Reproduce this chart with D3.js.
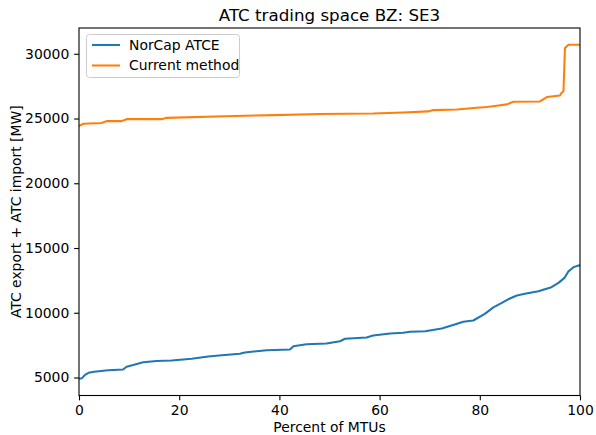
<!DOCTYPE html>
<html>
<head>
<meta charset="utf-8">
<script src="https://cdn.jsdelivr.net/npm/d3@7"></script>
<style>
  body { margin: 0; background: #fff; }
  svg { display: block; font-family: "DejaVu Sans", sans-serif; }
</style>
</head>
<body>
<svg id="chart" width="596" height="435"></svg>
<script>
// ---- Data ----
const title = "ATC trading space BZ: SE3";
const xLabel = "Percent of MTUs";
const yLabel = "ATC export + ATC import [MW]";
const seriesNames = ["NorCap ATCE", "Current method"];
const seriesColors = ["#1f77b4", "#ff7f0e"];

const norcapX = [0, 0.6, 1.2, 1.9, 3, 5.8, 8.8, 9.5, 11, 12.8, 15.5, 18.5, 22.5, 25.8, 28.5, 32.1, 33.1, 37.5, 42.1, 42.8, 45.4, 49.4, 52.1, 53.1, 57.4, 58.7, 62.1, 64.7, 66.1, 69.1, 72.4, 75.0, 76.7, 78.7, 81.0, 82.7, 84.4, 86.0, 87.4, 89.0, 91.7, 94.3, 95.7, 96.9, 97.7, 98.7, 99.6, 100];
const norcapY = [4900, 4950, 5200, 5360, 5450, 5560, 5620, 5830, 5980, 6180, 6280, 6310, 6450, 6620, 6720, 6830, 6930, 7110, 7160, 7420, 7570, 7620, 7800, 7990, 8090, 8240, 8400, 8450, 8530, 8570, 8780, 9090, 9300, 9400, 9910, 10420, 10760, 11100, 11330, 11460, 11660, 11970, 12310, 12690, 13200, 13510, 13640, 13660];

const currentX = [0, 0.9, 4.5, 5.5, 8.5, 9.5, 16.5, 17.5, 29.1, 39.1, 48.1, 58.7, 64.7, 69.7, 70.7, 75.4, 79.4, 81.4, 83.4, 85.4, 86.7, 92.0, 93.4, 96.0, 96.3, 96.7, 97.0, 97.7, 99.5, 100];
const currentY = [24430, 24600, 24650, 24800, 24800, 24950, 24950, 25050, 25180, 25260, 25350, 25390, 25470, 25550, 25650, 25700, 25830, 25890, 25990, 26090, 26300, 26320, 26660, 26780, 26970, 27100, 30440, 30690, 30700, 30700];

const xTicks = [0, 20, 40, 60, 80, 100];
const yTicks = [5000, 10000, 15000, 20000, 25000, 30000];

(function () {
// ---- Layout ----
const svg = d3.select("#chart");
const mLeft = 79, mRight = 580, mTop = 28, mBottom = 395.5;

const allY = norcapY.concat(currentY);
const yMin = d3.min(allY), yMax = d3.max(allY);
const pad = (yMax - yMin) * 0.05;

const x = d3.scaleLinear().domain([0, 100]).range([mLeft, mRight]);
const y = d3.scaleLinear().domain([yMin - pad, yMax + pad]).range([mBottom, mTop]);

const fontPx = 13.9;

const series = [
  { name: seriesNames[0], color: seriesColors[0], pts: norcapX.map((d, i) => [d, norcapY[i]]) },
  { name: seriesNames[1], color: seriesColors[1], pts: currentX.map((d, i) => [d, currentY[i]]) }
];
const line = d3.line().x(d => x(d[0])).y(d => y(d[1]));

svg.append("clipPath").attr("id", "clip").append("rect")
  .attr("x", mLeft).attr("y", mTop).attr("width", mRight - mLeft).attr("height", mBottom - mTop);

svg.append("g").attr("clip-path", "url(#clip)")
  .selectAll("path").data(series).enter().append("path")
  .attr("d", d => line(d.pts))
  .attr("fill", "none")
  .attr("stroke", d => d.color)
  .attr("stroke-width", 2.08)
  .attr("stroke-linejoin", "round")
  .attr("stroke-linecap", "square");

const xAxis = d3.axisBottom(x).tickValues(xTicks).tickSize(4.86).tickPadding(4.86).tickFormat(d3.format("d"));
const yAxis = d3.axisLeft(y).tickValues(yTicks).tickSize(4.86).tickPadding(4.86).tickFormat(d3.format("d"));

const gx = svg.append("g").attr("transform", `translate(0,${mBottom})`).call(xAxis);
const gy = svg.append("g").attr("transform", `translate(${mLeft},0)`).call(yAxis);
[gx, gy].forEach(g => {
  g.select(".domain").remove();
  g.selectAll(".tick line").attr("stroke", "#000").attr("stroke-width", 1.1);
  g.selectAll(".tick text").attr("fill", "#000").style("font-size", fontPx + "px")
    .style("font-family", "DejaVu Sans");
});

svg.append("rect").attr("x", mLeft).attr("y", mTop)
  .attr("width", mRight - mLeft).attr("height", mBottom - mTop)
  .attr("fill", "none").attr("stroke", "#000").attr("stroke-width", 1.1);

svg.append("text").attr("x", (mLeft + mRight) / 2).attr("y", 21)
  .attr("text-anchor", "middle").style("font-size", "16.7px").text(title);
svg.append("text").attr("x", (mLeft + mRight) / 2).attr("y", 432)
  .attr("text-anchor", "middle").style("font-size", fontPx + "px").text(xLabel);
svg.append("text").attr("transform", `translate(21,${(mTop + mBottom) / 2}) rotate(-90)`)
  .attr("text-anchor", "middle").style("font-size", fontPx + "px").text(yLabel);

const lg = svg.append("g");
lg.append("rect").attr("x", 86.5).attr("y", 34.5).attr("width", 153).attr("height", 43)
  .attr("rx", 3).attr("fill", "#fff").attr("fill-opacity", 0.8)
  .attr("stroke", "#ccc").attr("stroke-width", 1);
series.forEach((s, i) => {
  const cy = 45 + i * 20.5;
  lg.append("line").attr("x1", 92).attr("x2", 120).attr("y1", cy).attr("y2", cy)
    .attr("stroke", s.color).attr("stroke-width", 2.08);
  lg.append("text").attr("x", 129).attr("y", cy).attr("dy", "0.35em")
    .style("font-size", fontPx + "px").text(s.name);
});
})();
</script>
</body>
</html>
